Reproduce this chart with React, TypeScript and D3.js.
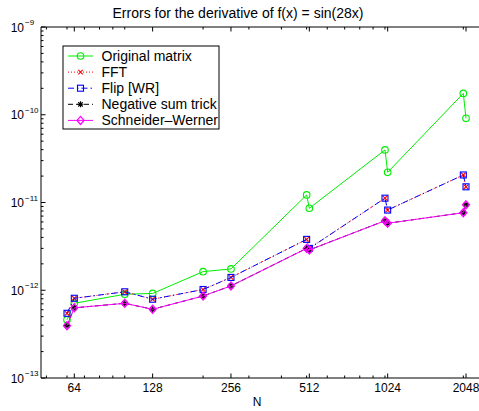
import React from "react";
import * as d3 from "d3";

const N = [60, 64, 100, 128, 200, 256, 500, 512, 1000, 1024, 2000, 2048];
const originalMatrix = [4.6e-13, 7.1e-13, 9.0e-13, 9.2e-13, 1.63e-12, 1.75e-12, 1.22e-11, 8.6e-12, 3.97e-11, 2.21e-11, 1.75e-10, 9.1e-11];
const fft = [5.46e-13, 8.1e-13, 9.6e-13, 7.9e-13, 1.02e-12, 1.4e-12, 3.8e-12, 3.0e-12, 1.12e-11, 8.2e-12, 2.06e-11, 1.51e-11];
const flipWR = [5.46e-13, 8.1e-13, 9.6e-13, 7.9e-13, 1.02e-12, 1.4e-12, 3.8e-12, 3.0e-12, 1.12e-11, 8.2e-12, 2.06e-11, 1.51e-11];
const negativeSum = [3.95e-13, 6.3e-13, 7.1e-13, 6.07e-13, 8.6e-13, 1.12e-12, 3.0e-12, 2.88e-12, 6.2e-12, 5.8e-12, 7.65e-12, 9.4e-12];
const schneiderWerner = [3.95e-13, 6.3e-13, 7.1e-13, 6.07e-13, 8.6e-13, 1.12e-12, 3.0e-12, 2.88e-12, 6.2e-12, 5.8e-12, 7.65e-12, 9.4e-12];
const seriesNames = ["Original matrix", "FFT", "Flip [WR]", "Negative sum trick", "Schneider\u2013Werner"];
const xTicks = [64, 128, 256, 512, 1024, 2048];
const yExponents = [-13, -12, -11, -10, -9];
const title = "Errors for the derivative of f(x) = sin(28x)";
const xLabel = "N";

const W = 479, H = 411;
const L = 41, T = 27, B = 378, R = 481;
const FONT = "'Liberation Sans', Arial, Helvetica, sans-serif";

type Style = { color: string; dash: string; marker: string };
const styles: Style[] = [
  { color: "#00ee00", dash: "", marker: "o" },
  { color: "#ff0000", dash: "1,2", marker: "x" },
  { color: "#0000ff", dash: "6,3,1.5,3", marker: "s" },
  { color: "#000000", dash: "5,3", marker: "*" },
  { color: "#ff00ff", dash: "", marker: "d" },
];
const seriesData = [originalMatrix, fft, flipWR, negativeSum, schneiderWerner];

function Marker({ kind, x, y, color }: { kind: string; x: number; y: number; color: string }) {
  const sw = 1.1;
  if (kind === "o") return <circle cx={x} cy={y} r={3.3} fill="none" stroke={color} strokeWidth={sw} />;
  if (kind === "s") return <rect x={x - 3} y={y - 3} width={6} height={6} fill="none" stroke={color} strokeWidth={sw} />;
  if (kind === "d") return <path d={`M${x},${y - 4}L${x + 3.5},${y}L${x},${y + 4}L${x - 3.5},${y}Z`} fill="none" stroke={color} strokeWidth={1.3} />;
  if (kind === "x") {
    const s = 2.2;
    return <path d={`M${x - s},${y - s}L${x + s},${y + s}M${x - s},${y + s}L${x + s},${y - s}`} stroke={color} strokeWidth={sw} />;
  }
  if (kind === "*") {
    const s = 3, d = 2.2;
    return <path d={`M${x - s},${y}L${x + s},${y}M${x},${y - s}L${x},${y + s}M${x - d},${y - d}L${x + d},${y + d}M${x - d},${y + d}L${x + d},${y - d}`} stroke={color} strokeWidth={sw} />;
  }
  return null;
}

export default function App() {
  // pixel anchors: 64 -> 74.3, 2048 -> 466
  const pxOct = (466 - 74.3) / 5;
  const xMin = 64 * Math.pow(2, (L - 74.3) / pxOct);
  const xMax = 2048 * Math.pow(2, (R - 466) / pxOct);
  const x = d3.scaleLog().base(2).domain([xMin, xMax]).range([L, R]);
  const y = d3.scaleLog().domain([1e-13, 1e-9]).range([B, T]);

  const xMinor: number[] = [];
  for (let e = 1; e <= 3; e++) for (let m = 1; m <= 9; m++) {
    const v = m * Math.pow(10, e);
    if (v > xMin && v < xMax && !xTicks.includes(v)) xMinor.push(v);
  }
  const yMinor: number[] = [];
  for (let e = -13; e < -9; e++) for (let m = 2; m <= 9; m++) yMinor.push(m * Math.pow(10, e));

  const line = d3.line<number>().x((_, i) => x(N[i])).y((d) => y(d));
  const majL = 4.5, minL = 2.5;

  return (
    <svg width={W} height={H} style={{ position: "absolute", left: 0, top: 0, background: "#fff" }} fontFamily={FONT}>
      <rect width={W} height={H} fill="#fff" />
      <text x={238} y={18} fontSize={14} textAnchor="middle">{title}</text>
      {seriesData.map((data, si) => (
        <g key={si}>
          <path d={line(data) || ""} fill="none" stroke={styles[si].color} strokeWidth={1} strokeDasharray={styles[si].dash} />
          {data.map((v, i) => (
            <Marker key={i} kind={styles[si].marker} x={x(N[i])} y={y(v)} color={styles[si].color} />
          ))}
        </g>
      ))}
      <g stroke="#000" strokeWidth={1} fill="none">
        <path d={`M${L},${T}H${R}V${B}H${L}Z`} />
        {xTicks.map((t) => (
          <path key={"xt" + t} d={`M${x(t)},${B}v${-majL}M${x(t)},${T}v${majL}`} />
        ))}
        {xMinor.map((t) => (
          <path key={"xm" + t} d={`M${x(t)},${B}v${-minL}M${x(t)},${T}v${minL}`} />
        ))}
        {yExponents.map((e) => (
          <path key={"yt" + e} d={`M${L},${y(Math.pow(10, e))}h${majL}`} />
        ))}
        {yMinor.map((t, i) => (
          <path key={"ym" + i} d={`M${L},${y(t)}h${minL}`} />
        ))}
      </g>
      {xTicks.map((t) => (
        <text key={"xl" + t} x={x(t)} y={392} fontSize={12} textAnchor="middle">{t}</text>
      ))}
      <text x={257} y={406} fontSize={12} textAnchor="middle">{xLabel}</text>
      {yExponents.map((e) => (
        <g key={"yl" + e}>
          <text x={24} y={y(Math.pow(10, e)) + 4.5} fontSize={12} textAnchor="end">10</text>
          <text x={25} y={y(Math.pow(10, e)) - 2} fontSize={8}>{"\u2212" + Math.abs(e)}</text>
        </g>
      ))}
      <rect x={63} y={46} width={156} height={83} fill="#fff" stroke="#000" strokeWidth={1} />
      {seriesNames.map((name, i) => {
        const ly = 56 + i * 16.1;
        return (
          <g key={"lg" + i}>
            <line x1={68} x2={93} y1={ly} y2={ly} stroke={styles[i].color} strokeWidth={1} strokeDasharray={styles[i].dash} />
            <Marker kind={styles[i].marker} x={80.5} y={ly} color={styles[i].color} />
            <text x={101.5} y={ly + 5} fontSize={14}>{name}</text>
          </g>
        );
      })}
    </svg>
  );
}
